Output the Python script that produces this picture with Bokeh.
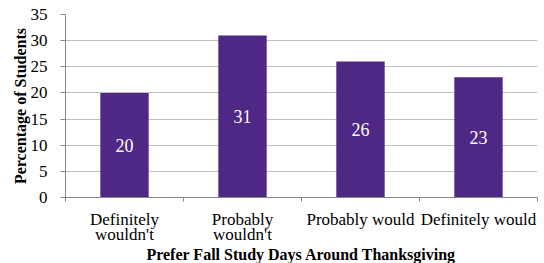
from bokeh.plotting import figure
from bokeh.models import ColumnDataSource, FixedTicker, Range1d, LabelSet
from bokeh.embed import file_html
from bokeh.resources import INLINE

categories = ["Definitely\nwouldn't", "Probably\nwouldn't", "Probably would", "Definitely would"]
values = [20, 31, 26, 23]
y_ticks = [0, 5, 10, 15, 20, 25, 30, 35]

xs = [i + 0.5 for i in range(len(categories))]
src = ColumnDataSource(dict(x=xs, top=values, mid=[v / 2 for v in values], lab=[str(v) for v in values]))

FONT = "Liberation Serif"

p = figure(frame_width=472, frame_height=183, output_backend="svg", toolbar_location=None,
           x_range=Range1d(0, len(categories)), y_range=Range1d(0, 35),
           min_border_left=65, min_border_right=7, min_border_top=14, min_border_bottom=66)
p.outline_line_color = None
p.background_fill_color = "white"
p.border_fill_color = "white"

p.vbar(x="x", top="top", bottom=0, width=0.41, source=src, fill_color="#4F2784", line_color=None)

labels = LabelSet(x="x", y="mid", text="lab", source=src, text_color="white",
                  text_font=FONT, text_font_size="18px", text_align="center", text_baseline="middle")
p.add_layout(labels)

# y axis
p.yaxis.ticker = FixedTicker(ticks=y_ticks)
p.yaxis.axis_line_color = "#868686"
p.yaxis.major_tick_line_color = "#868686"
p.yaxis.major_tick_out = 5
p.yaxis.major_tick_in = 0
p.yaxis.minor_tick_line_color = None
p.yaxis.major_label_text_font = FONT
p.yaxis.major_label_text_font_size = "17px"
p.yaxis.major_label_text_color = "black"
p.yaxis.major_label_standoff = 13
p.yaxis.axis_label = "Percentage of Students"
p.yaxis.axis_label_text_font = FONT
p.yaxis.axis_label_text_font_style = "bold"
p.yaxis.axis_label_text_font_size = "16px"
p.yaxis.axis_label_text_color = "black"
p.yaxis.axis_label_standoff = -1

# x axis
p.xaxis.ticker = FixedTicker(ticks=xs, minor_ticks=list(range(len(categories) + 1)))
p.xaxis.major_label_overrides = {x: c for x, c in zip(xs, categories)}
p.xaxis.axis_line_color = "#868686"
p.xaxis.major_tick_line_color = None
p.xaxis.major_tick_out = 0
p.xaxis.major_tick_in = 0
p.xaxis.minor_tick_line_color = "#868686"
p.xaxis.minor_tick_out = 4
p.xaxis.minor_tick_in = 0
p.xaxis.major_label_text_font = FONT
p.xaxis.major_label_text_font_size = "17px"
p.xaxis.major_label_text_line_height = 0.82
p.xaxis.major_label_text_color = "black"
p.xaxis.major_label_standoff = 8
p.xaxis.axis_label = "Prefer Fall Study Days Around Thanksgiving"
p.xaxis.axis_label_text_font = FONT
p.xaxis.axis_label_text_font_style = "bold"
p.xaxis.axis_label_text_font_size = "16px"
p.xaxis.axis_label_text_color = "black"
p.xaxis.axis_label_standoff = -1

p.xgrid.grid_line_color = None
p.ygrid.grid_line_color = "#BFBFBF"
p.ygrid.grid_line_width = 1

open("out.html", "w").write(file_html(p, INLINE))
